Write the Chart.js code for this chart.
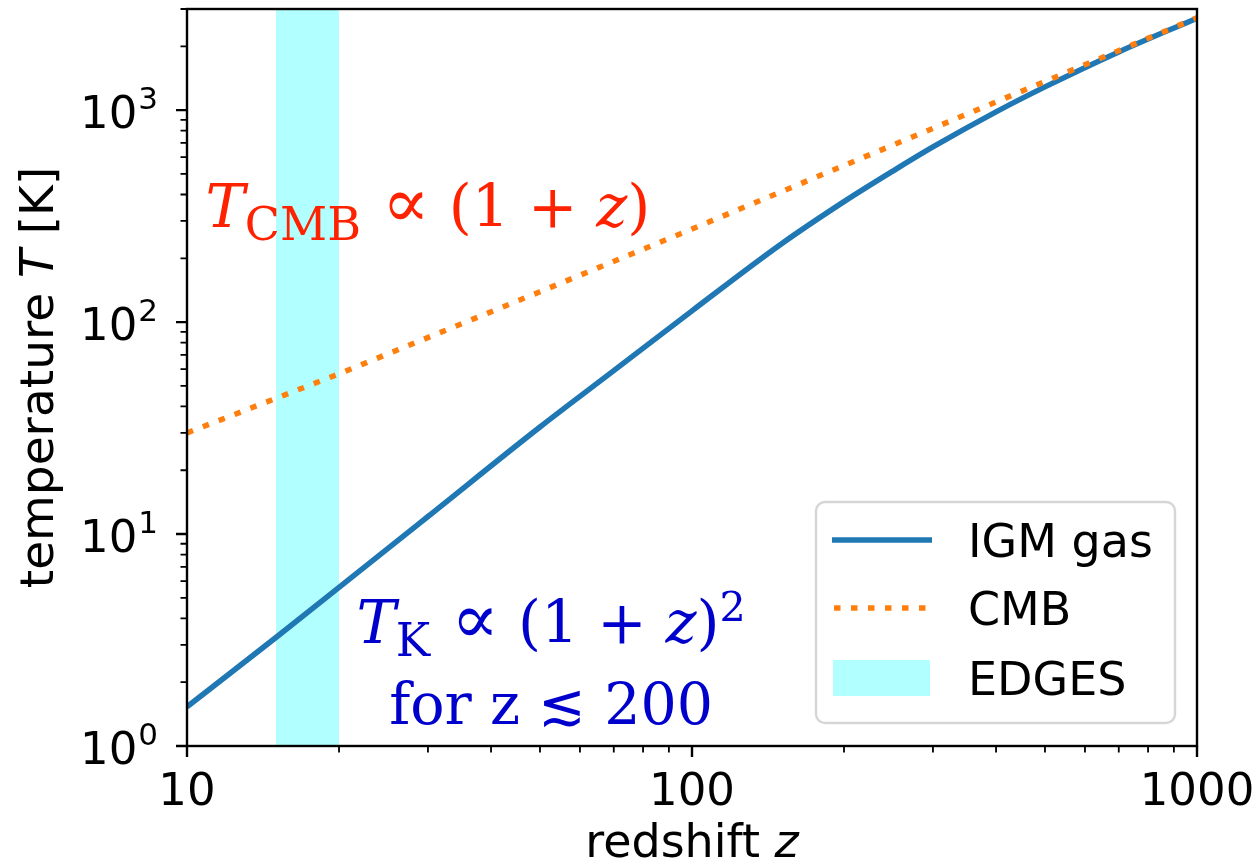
<!doctype html>
<html lang="en">
<head>
<meta charset="utf-8" />
<title>IGM gas and CMB temperature vs redshift</title>
<script src="https://cdn.jsdelivr.net/npm/chart.js"></script>
<style>
  html, body { margin: 0; padding: 0; background: #fff; }
  #wrap { width: 1259px; height: 864px; }
</style>
</head>
<body>
<div id="wrap"><canvas id="chart" width="1259" height="864"></canvas></div>
<script>
// values
const redshifts = [10, 15, 20, 30, 50, 70, 100, 150, 200, 250, 300, 400, 500, 700, 1000];
const igmTemps = [1.53, 3.25, 5.6, 12.1, 32, 59, 113, 233, 370, 516, 670, 981, 1287, 1882, 2715];
const cmbRedshifts = [10, 20, 50, 100, 200, 500, 1000];
const cmbTemps = [30, 57, 139, 275, 548, 1365, 2728];
const edgesRange = [15, 20];
const xLimits = [10, 1000];
const yLimits = [1, 3000];
const xTicks = [10, 100, 1000];
const xTickLabels = ['10', '100', '1000'];
const yTicks = [1, 10, 100, 1000];
const yTickExponents = ['0', '1', '2', '3'];
const legendLabels = ['IGM gas', 'CMB', 'EDGES'];

const BLUE = '#1f77b4';
const ORANGE = '#ff7f0e';
const CYAN = 'rgba(0, 255, 255, 0.3)';
const RED_TEXT = '#ff2200';
const BLUE_TEXT = '#0000cc';
const SANS = '"DejaVu Sans"';
const SERIF = '"DejaVu Serif"';
const LINE_W = 5.5;
const DOTS = [6.5, 10.5];

// minor ticks for a log axis: 2..9 times each decade
function minorTicks(min, max) {
  const out = [];
  for (let d = 1; d <= max; d *= 10) {
    for (let m = 2; m <= 9; m++) {
      const v = m * d;
      if (v > min && v <= max) out.push(v);
    }
  }
  return out;
}

// draw a run of text pieces (for mathtext-like labels)
function drawRuns(ctx, runs, x, baseline, size, family, color, align) {
  let total = 0;
  for (const r of runs) {
    const s = size * (r.scale || 1);
    ctx.font = `${r.italic ? 'italic ' : ''}${s}px ${r.family || family}`;
    r.w = ctx.measureText(r.text).width;
    total += r.w + (r.gap || 0) * size;
  }
  let cur = align === 'center' ? x - total / 2 : align === 'right' ? x - total : x;
  ctx.fillStyle = color;
  ctx.textAlign = 'left';
  ctx.textBaseline = 'alphabetic';
  for (const r of runs) {
    const s = size * (r.scale || 1);
    ctx.font = `${r.italic ? 'italic ' : ''}${s}px ${r.family || family}`;
    ctx.fillText(r.text, cur, baseline + (r.dy || 0) * size);
    cur += r.w + (r.gap || 0) * size;
  }
}

function roundedRect(ctx, x, y, w, h, r) {
  ctx.beginPath();
  ctx.moveTo(x + r, y);
  ctx.lineTo(x + w - r, y);
  ctx.arcTo(x + w, y, x + w, y + r, r);
  ctx.lineTo(x + w, y + h - r);
  ctx.arcTo(x + w, y + h, x + w - r, y + h, r);
  ctx.lineTo(x + r, y + h);
  ctx.arcTo(x, y + h, x, y + h - r, r);
  ctx.lineTo(x, y + r);
  ctx.arcTo(x, y, x + r, y, r);
  ctx.closePath();
}

const decorations = {
  id: 'decorations',
  afterDraw(chart) {
    const { ctx, chartArea: a } = chart;
    const xs = chart.scales.x;
    const ys = chart.scales.y;
    ctx.save();

    // annotations
    drawRuns(ctx, [
      { text: 'T', italic: true },
      { text: 'CMB', scale: 0.78, dy: 0.22, gap: 0.04 },
      { text: ' ' },
      { text: '\u221D', scale: 1.2 },
      { text: ' (1 + ' },
      { text: 'z', italic: true },
      { text: ')' },
    ], xs.getPixelForValue(30), ys.getPixelForValue(280), 59, SERIF, RED_TEXT, 'center');

    drawRuns(ctx, [
      { text: 'T', italic: true },
      { text: 'K', scale: 0.78, dy: 0.22, gap: 0.04 },
      { text: ' ' },
      { text: '\u221D', scale: 1.2 },
      { text: ' (1 + ' },
      { text: 'z', italic: true },
      { text: ')' },
      { text: '2', scale: 0.7, dy: -0.38 },
    ], xs.getPixelForValue(52.6), ys.getPixelForValue(3.06), 59, SERIF, BLUE_TEXT, 'center');
    drawRuns(ctx, [{ text: 'for z \u2272 200' }],
      xs.getPixelForValue(52.6), ys.getPixelForValue(1.27), 57, SERIF, BLUE_TEXT, 'center');

    // spines
    ctx.strokeStyle = '#000';
    ctx.lineWidth = 2.4;
    ctx.strokeRect(a.left, a.top, a.right - a.left, a.bottom - a.top);

    // ticks
    ctx.beginPath();
    for (const v of xTicks) {
      const px = xs.getPixelForValue(v);
      ctx.moveTo(px, a.bottom); ctx.lineTo(px, a.bottom + 11);
    }
    for (const v of yTicks) {
      const py = ys.getPixelForValue(v);
      ctx.moveTo(a.left, py); ctx.lineTo(a.left - 11, py);
    }
    ctx.lineWidth = 2.4;
    ctx.stroke();
    ctx.beginPath();
    for (const v of minorTicks(xLimits[0], xLimits[1])) {
      const px = xs.getPixelForValue(v);
      ctx.moveTo(px, a.bottom); ctx.lineTo(px, a.bottom + 6.5);
    }
    for (const v of minorTicks(yLimits[0], yLimits[1])) {
      const py = ys.getPixelForValue(v);
      ctx.moveTo(a.left, py); ctx.lineTo(a.left - 6.5, py);
    }
    ctx.lineWidth = 1.8;
    ctx.stroke();

    // tick labels
    ctx.fillStyle = '#000';
    ctx.font = `45px ${SANS}`;
    ctx.textAlign = 'center';
    ctx.textBaseline = 'alphabetic';
    xTicks.forEach((v, i) => ctx.fillText(xTickLabels[i], xs.getPixelForValue(v), a.bottom + 59));
    yTicks.forEach((v, i) => {
      const py = ys.getPixelForValue(v);
      ctx.textAlign = 'right';
      ctx.font = `31px ${SANS}`;
      ctx.fillText(yTickExponents[i], a.left - 29, py - 1);
      const ew = ctx.measureText(yTickExponents[i]).width;
      ctx.font = `45px ${SANS}`;
      ctx.fillText('10', a.left - 29 - ew - 1, py + 18);
    });

    // axis labels
    drawRuns(ctx, [{ text: 'redshift ' }, { text: 'z', italic: true }],
      (a.left + a.right) / 2, 857, 46, SANS, '#000', 'center');
    ctx.save();
    ctx.translate(53, (a.top + a.bottom) / 2);
    ctx.rotate(-Math.PI / 2);
    drawRuns(ctx, [{ text: 'temperature ' }, { text: 'T', italic: true }, { text: ' [K]' }],
      0, 0, 47, SANS, '#000', 'center');
    ctx.restore();

    // legend
    const lw = 359, lh = 221;
    const lx = a.right - 22 - lw, ly = a.bottom - 23 - lh;
    roundedRect(ctx, lx, ly, lw, lh, 9);
    ctx.fillStyle = 'rgba(255,255,255,0.8)';
    ctx.fill();
    ctx.strokeStyle = 'rgba(204,204,204,0.8)';
    ctx.lineWidth = 2.4;
    ctx.stroke();
    const hx0 = lx + 16, hx1 = lx + 116;
    const rowY = [ly + 38, ly + 106, ly + 176];
    ctx.lineWidth = LINE_W;
    ctx.strokeStyle = BLUE;
    ctx.beginPath(); ctx.moveTo(hx0, rowY[0]); ctx.lineTo(hx1, rowY[0]); ctx.stroke();
    ctx.strokeStyle = ORANGE;
    ctx.setLineDash(DOTS);
    ctx.beginPath(); ctx.moveTo(hx0 + 2, rowY[1]); ctx.lineTo(hx1, rowY[1]); ctx.stroke();
    ctx.setLineDash([]);
    ctx.fillStyle = CYAN;
    ctx.fillRect(hx0 + 1, rowY[2] - 18, 97, 36);
    ctx.fillStyle = '#000';
    ctx.font = `46px ${SANS}`;
    ctx.textAlign = 'left';
    legendLabels.forEach((t, i) => ctx.fillText(t, lx + 152, rowY[i] + 17));

    ctx.restore();
  },
};

new Chart(document.getElementById('chart'), {
  type: 'line',
  data: {
    datasets: [
      {
        label: 'EDGES',
        data: edgesRange.map((z) => ({ x: z, y: yLimits[1] })),
        fill: 'start',
        backgroundColor: CYAN,
        borderWidth: 0,
        pointRadius: 0,
        order: 3,
      },
      {
        label: 'IGM gas',
        data: redshifts.map((z, i) => ({ x: z, y: igmTemps[i] })),
        borderColor: BLUE,
        borderWidth: LINE_W,
        pointRadius: 0,
        cubicInterpolationMode: 'monotone',
        order: 2,
      },
      {
        label: 'CMB',
        data: cmbRedshifts.map((z, i) => ({ x: z, y: cmbTemps[i] })),
        borderColor: ORANGE,
        borderWidth: LINE_W,
        borderDash: DOTS,
        pointRadius: 0,
        order: 1,
      },
    ],
  },
  options: {
    responsive: false,
    animation: false,
    layout: { padding: { left: 187, right: 62, top: 9, bottom: 118 } },
    scales: {
      x: { type: 'logarithmic', min: xLimits[0], max: xLimits[1], display: false },
      y: { type: 'logarithmic', min: yLimits[0], max: yLimits[1], display: false },
    },
    plugins: { legend: { display: false }, tooltip: { enabled: false } },
  },
  plugins: [decorations],
});
</script>
</body>
</html>
